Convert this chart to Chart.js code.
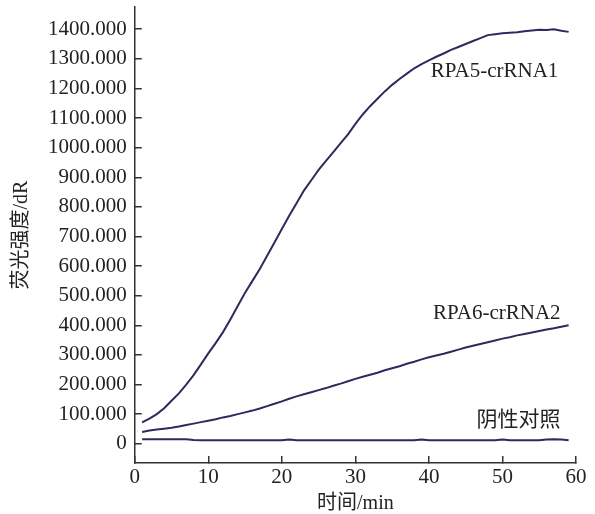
<!DOCTYPE html>
<html>
<head>
<meta charset="utf-8">
<script src="https://cdn.jsdelivr.net/npm/chart.js@4.4.1/dist/chart.umd.min.js"></script>
<style>
  html, body { margin: 0; padding: 0; background: #fff; }
  #wrap { width: 595px; height: 514px; }
</style>
</head>
<body>
<div id="wrap"><canvas id="chart"></canvas></div>
<script>
// 时间 (min)
const minutes = [];
for (let i = 1; i <= 59; i++) minutes.push(i);

const rpa5 = [72, 85, 100, 120, 145, 170, 200, 232, 268, 305,
    340, 377, 420, 465, 510, 550, 590, 635, 680, 725,
    770, 812, 855, 890, 925, 955, 985, 1015, 1045, 1080,
    1112, 1140, 1165, 1190, 1212, 1232, 1250, 1268, 1282, 1295,
    1307, 1318, 1330, 1340, 1350, 1360, 1370, 1380, 1383, 1386,
    1388, 1390, 1393, 1396, 1398, 1397, 1400, 1395, 1391];

const rpa6 = [40, 45, 48, 51, 54, 58, 63, 68, 73, 78,
    83, 89, 94, 100, 106, 112, 119, 127, 135, 143,
    152, 160, 167, 174, 181, 188, 196, 203, 211, 219,
    226, 233, 240, 248, 255, 262, 270, 277, 285, 292,
    298, 304, 311, 318, 325, 331, 337, 343, 349, 355,
    360, 366, 371, 376, 381, 386, 390, 395, 400];

const negCtrl = [15, 15, 15, 15, 15, 15, 15, 13, 12, 12,
    12, 12, 12, 12, 12, 12, 12, 12, 12, 12,
    14, 12, 12, 12, 12, 12, 12, 12, 12, 12,
    12, 12, 12, 12, 12, 12, 12, 12, 14, 12,
    12, 12, 12, 12, 12, 12, 12, 12, 12, 14,
    12, 12, 12, 12, 12, 14, 15, 14, 12];

const seriesNames = ["RPA5-crRNA1", "RPA6-crRNA2", "阴性对照"];
const yTicks = [0, 100, 200, 300, 400, 500, 600, 700, 800, 900, 1000, 1100, 1200, 1300, 1400];
const xTicks = [0, 10, 20, 30, 40, 50, 60];

const lineColor = "#2d2a5e";
const axisColor = "#333333";
const serif = "'Liberation Serif', 'Noto Sans CJK SC', serif";

function toPoints(arr) {
    return arr.map((v, i) => ({ x: minutes[i], y: v }));
}

// 曲线右端的文字标注
const curveLabels = {
    id: "curveLabels",
    afterDatasetsDraw(c) {
        const ctx = c.ctx;
        const xs = c.scales.x, ys = c.scales.y;
        const spots = [[57.6, 1258], [57.9, 439], [57.9, 78]];
        ctx.save();
        ctx.fillStyle = "#222";
        ctx.font = "21px " + serif;
        ctx.textAlign = "right";
        ctx.textBaseline = "middle";
        seriesNames.forEach((name, i) => {
            ctx.fillText(name, xs.getPixelForValue(spots[i][0]), ys.getPixelForValue(spots[i][1]));
        });
        ctx.restore();
    }
};

const ctx = document.getElementById("chart").getContext("2d");
new Chart(ctx, {
    type: "line",
    data: {
        datasets: [rpa5, rpa6, negCtrl].map((arr, i) => ({
            label: seriesNames[i],
            data: toPoints(arr),
            borderColor: lineColor,
            borderWidth: 2,
            pointRadius: 0,
            fill: false,
            tension: 0
        }))
    },
    options: {
        responsive: true,
        maintainAspectRatio: false,
        animation: false,
        layout: { padding: { top: 7, right: 19, bottom: 0, left: 12 } },
        plugins: {
            legend: { display: false },
            tooltip: { enabled: false }
        },
        scales: {
            x: {
                type: "linear",
                min: 0,
                max: 60,
                afterBuildTicks: s => { s.ticks = xTicks.map(v => ({ value: v })); },
                afterFit: s => { s.paddingLeft = 0; s.paddingRight = 0; },
                grid: { drawOnChartArea: false, tickLength: -7, color: axisColor, lineWidth: 1.5 },
                border: { color: axisColor, width: 1.5 },
                ticks: { padding: 11, color: "#222", font: { family: serif, size: 21, lineHeight: 1 }, maxRotation: 0 },
                title: { display: true, text: "时间/min", color: "#222", font: { family: serif, size: 20, lineHeight: 1 }, padding: { top: -5, bottom: 0 } }
            },
            y: {
                min: -65,
                max: 1475,
                afterBuildTicks: s => { s.ticks = yTicks.map(v => ({ value: v })); },
                afterFit: s => { s.paddingTop = 0; s.paddingBottom = 0; },
                grid: { drawOnChartArea: false, tickLength: -7, color: axisColor, lineWidth: 1.5 },
                border: { color: axisColor, width: 1.5 },
                ticks: {
                    padding: 15,
                    color: "#222",
                    font: { family: serif, size: 21, lineHeight: 1 },
                    callback: v => v === 0 ? "0" : v.toFixed(3)
                },
                title: { display: true, text: "荧光强度/dR", color: "#222", font: { family: serif, size: 20, lineHeight: 1 }, padding: { top: 0, bottom: 1 } }
            }
        }
    },
    plugins: [curveLabels]
});
</script>
</body>
</html>
